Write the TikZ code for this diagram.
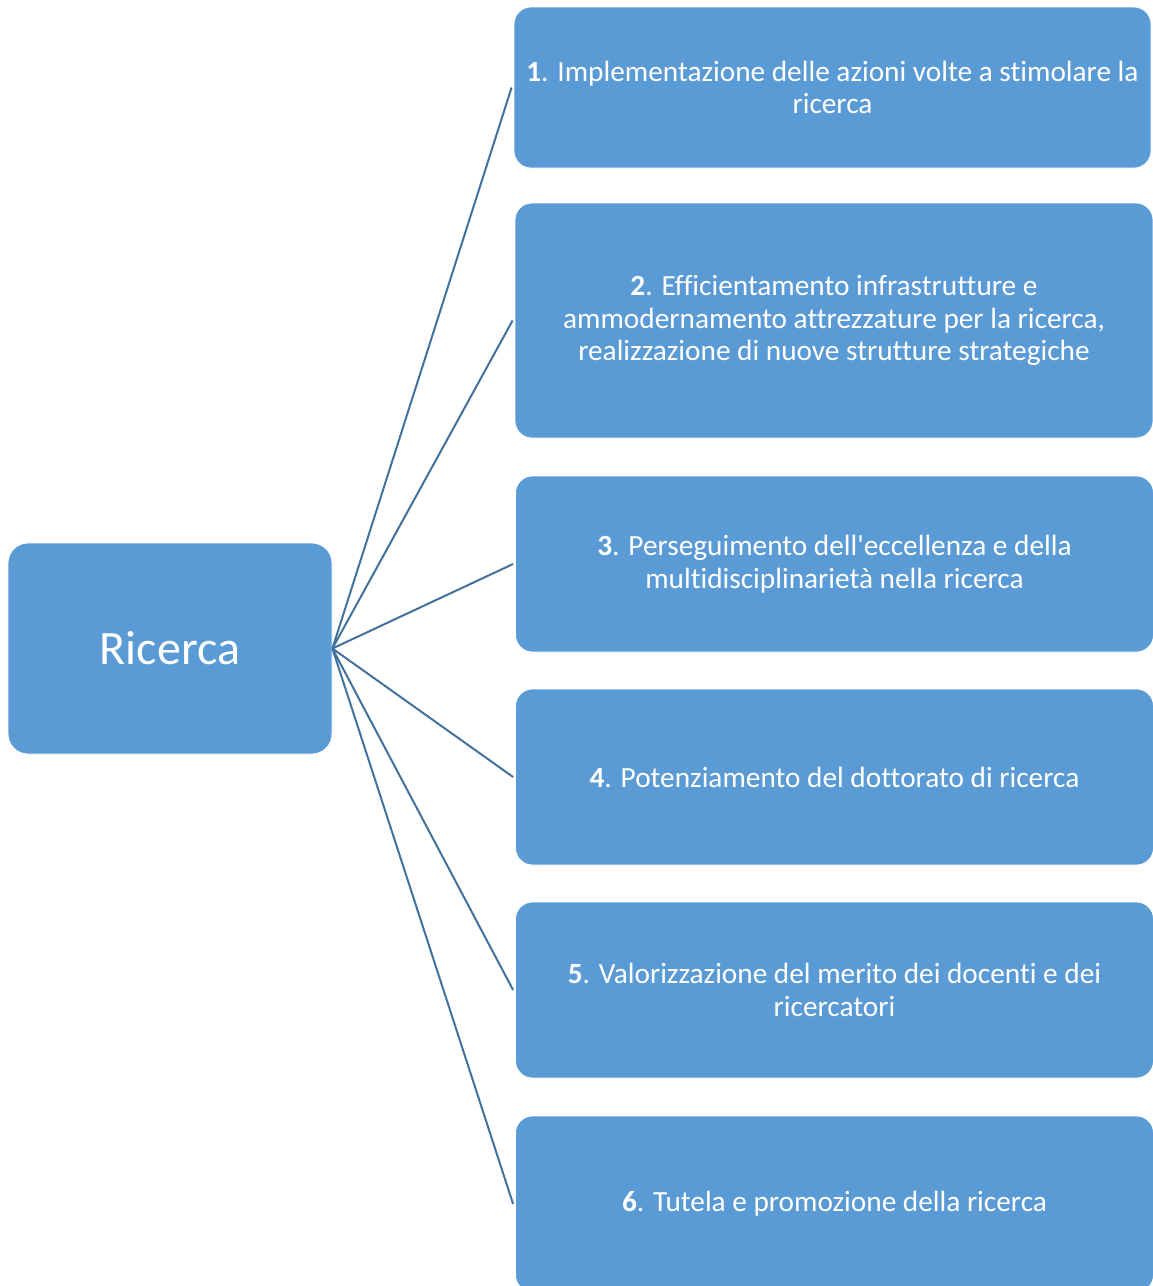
\documentclass[tikz,border=0pt]{standalone}
\usepackage{fontspec}
\setmainfont{Carlito}[Ligatures={NoCommon}]
\definecolor{boxfill}{HTML}{5B9BD5}
\definecolor{linkcol}{HTML}{41719C}
\begin{document}
\begin{tikzpicture}[x=1pt,y=-1pt,
  item/.style={draw=white, line width=0.8pt, fill=boxfill, rounded corners=17pt,
    text=white, align=center, inner sep=0pt, minimum width=638pt,
    font=\fontsize{29.3}{32.5}\selectfont},
  link/.style={draw=linkcol, line width=2pt}]
\useasboundingbox (0,0) rectangle (1153,1286);
\clip (0,0) rectangle (1153,1286);
\node[item, minimum width=324pt, minimum height=211pt, rounded corners=20pt,
  font=\fontsize{48}{56}\selectfont] (ric) at (170,648.5) {Ricerca};
\node[item, minimum width=637pt, minimum height=161pt] (b1) at (832.5,87.5)
  {\textbf{1}. Implementazione delle azioni volte a stimolare la\\ricerca};
\node[item, minimum height=235pt] (b2) at (834,320.5)
  {\textbf{2}. Efficientamento infrastrutture e\\ammodernamento attrezzature per la ricerca,\\realizzazione di nuove strutture strategiche};
\node[item, minimum height=176pt] (b3) at (834.5,564)
  {\textbf{3}. Perseguimento dell\textquotesingle eccellenza e della\\multidisciplinarietà nella ricerca};
\node[item, minimum height=176pt] (b4) at (834.5,777)
  {\textbf{4}. Potenziamento del dottorato di ricerca};
\node[item, minimum height=176pt] (b5) at (834.5,990)
  {\textbf{5}. Valorizzazione del merito dei docenti e dei\\ricercatori};
\node[item, minimum height=176pt] (b6) at (834.5,1204)
  {\textbf{6}. Tutela e promozione della ricerca};
\foreach \b in {b1,b2,b3,b4,b5,b6}
  \draw[link] (ric.east) -- ([xshift=-2pt]\b.west);
\end{tikzpicture}
\end{document}
